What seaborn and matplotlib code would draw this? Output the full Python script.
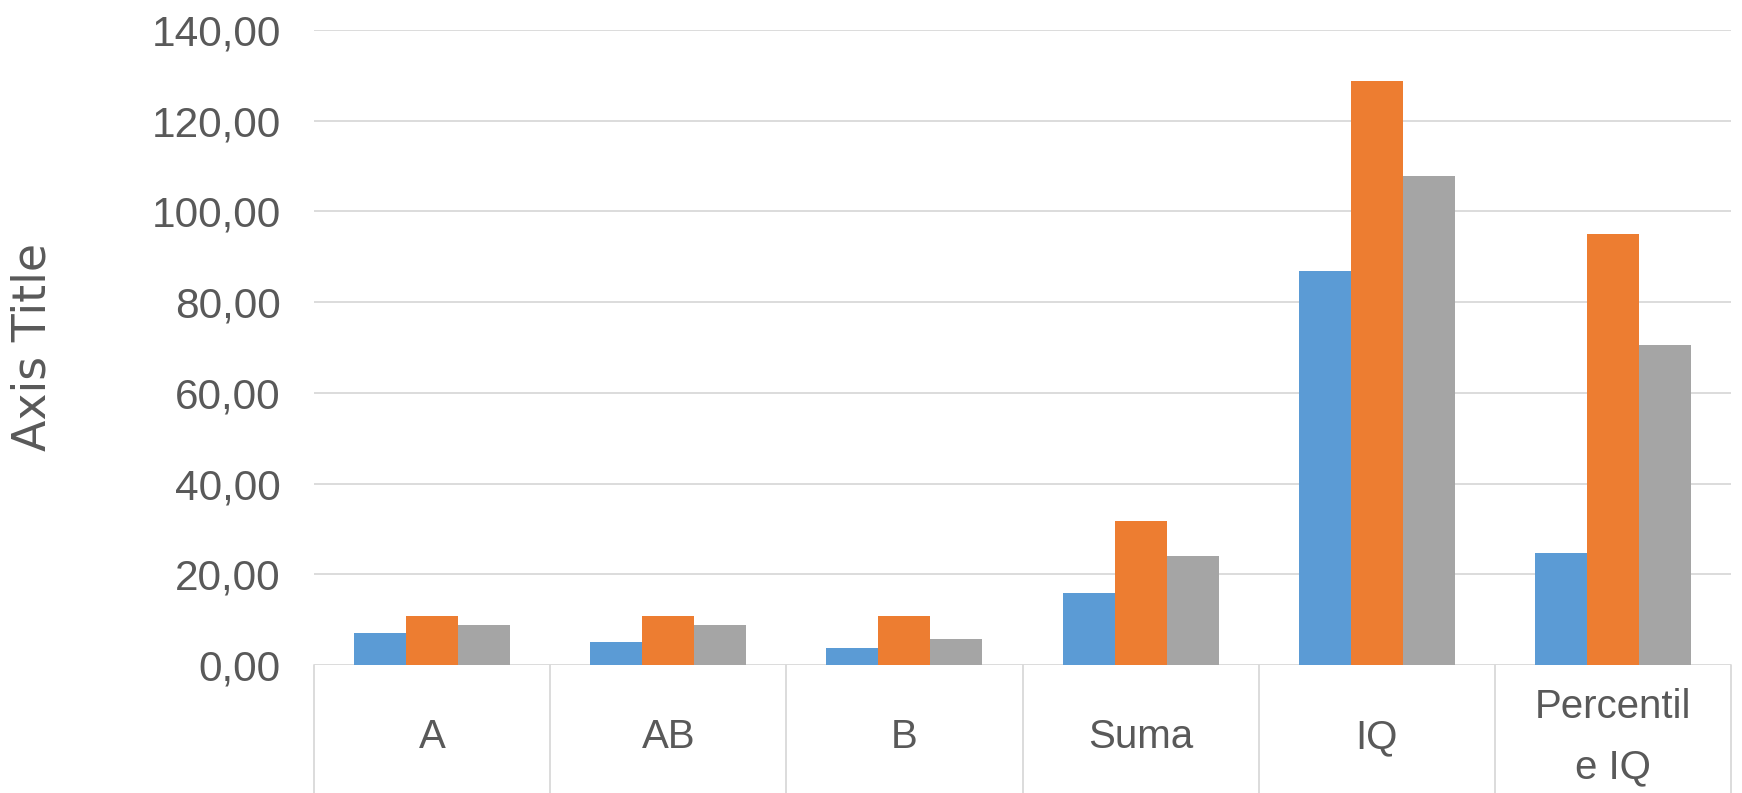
import pandas as pd
import matplotlib
matplotlib.use("Agg")
import matplotlib.pyplot as plt
from matplotlib import font_manager
import seaborn as sns

# data
categories = ["A", "AB", "B", "Suma", "IQ", "Percentil\ne IQ"]
series_names = ["Serie 1", "Serie 2", "Serie 3"]
serie_1 = [7.0, 5.1, 3.8, 15.9, 86.8, 24.7]
serie_2 = [10.9, 10.9, 10.9, 31.7, 128.7, 95.1]
serie_3 = [8.9, 8.9, 5.8, 24.1, 107.8, 70.5]
colors = ["#5B9BD5", "#ED7D31", "#A5A5A5"]
y_ticks = [0, 20, 40, 60, 80, 100, 120, 140]

# build long-form table for seaborn
rows = []
for name, vals in zip(series_names, [serie_1, serie_2, serie_3]):
    for cat, v in zip(categories, vals):
        rows.append({"Category": cat, "Series": name, "Value": v})
df = pd.DataFrame(rows)

sns.set_style("white")

available = {f.name for f in font_manager.fontManager.ttflist}
narrow = "Liberation Sans Narrow" if "Liberation Sans Narrow" in available else "Liberation Sans"
text_color = "#595959"
grid_color = "#D9D9D9"

fig = plt.figure(figsize=(17.42, 7.93), dpi=100)
ax = fig.add_axes([314 / 1742, 1 - 665 / 793, (1731 - 314) / 1742, (665 - 30) / 793])

sns.barplot(data=df, x="Category", y="Value", hue="Series", order=categories,
            hue_order=series_names, palette=colors, width=0.66, gap=0,
            linewidth=0, saturation=1, legend=False, ax=ax)

ax.set_ylim(0, 140)
ax.set_xlim(-0.5, len(categories) - 0.5)
ax.set_yticks(y_ticks)
ax.set_yticklabels([f"{v:.2f}".replace(".", ",") for v in y_ticks],
                   fontfamily=narrow, fontsize=30.5, color=text_color)
ax.tick_params(axis="y", length=0, pad=24)
ax.tick_params(axis="x", length=0, pad=52)
ax.set_xticks(range(len(categories)))
ax.set_xticklabels(categories, fontfamily=narrow, fontsize=29, color=text_color,
                   va="center", linespacing=1.75)

ax.yaxis.grid(True, color=grid_color, linewidth=1.3)
ax.set_axisbelow(True)
for s in ax.spines.values():
    s.set_visible(False)

ax.set_xlabel("")
ax.set_ylabel("")
fig.text(33 / 1742, 1 - 347 / 793, "Axis Title", rotation=90, ha="center", va="center",
         fontsize=33, color=text_color, family="DejaVu Sans")

# category box lines below the axis
for b in range(len(categories) + 1):
    ax.plot([b - 0.5, b - 0.5], [0, -40], color=grid_color, linewidth=1.3,
            clip_on=False, zorder=0)

fig.savefig("out.png", dpi=100)
